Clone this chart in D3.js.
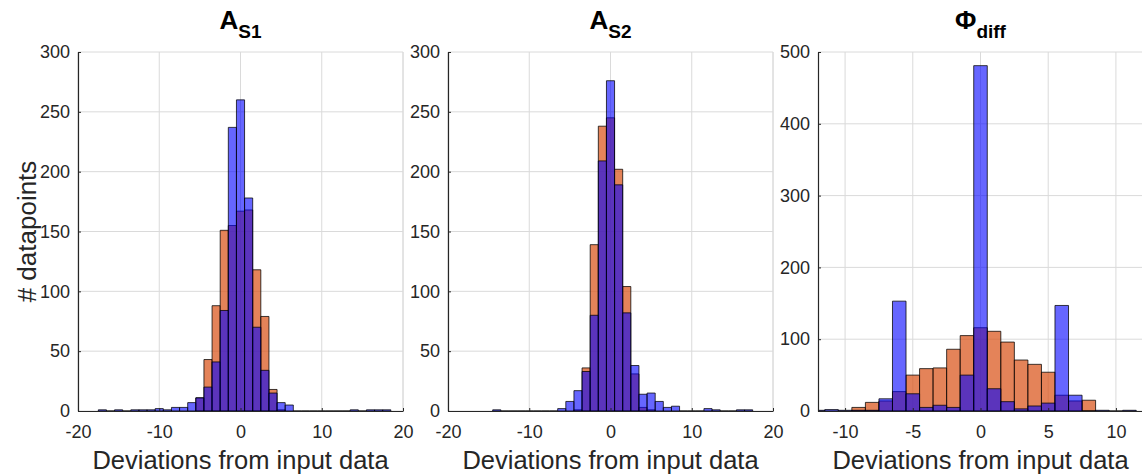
<!DOCTYPE html>
<html><head><meta charset="utf-8">
<script src="https://cdn.jsdelivr.net/npm/d3@7"></script>
<style>
body{margin:0;background:#fff}
text{font-family:"Liberation Sans",Arial,Helvetica,sans-serif}
</style>
</head><body>
<svg id="chart" width="1142" height="475"></svg>
<script>
// ---- data: counts per unit-wide bin, bins centred on integers ----
const as1BlueStart = -17;
const as1Blue = [1,0,1,0,1,1,1,2,1,3,3,7,11,20,41,84,237,260,178,70,34,15,7,5,0,0,0,0,0,0,0,1,0,1,1,1];
const as1OrangeStart = -5;
const as1Orange = [11,43,88,151,155,167,168,118,79,18,1];

const as2BlueStart = -14;
const as2Blue = [1,0,0,0,0,0,0,0,2,8,17,33,80,209,276,189,82,38,14,15,8,3,4,0,0,0,2,1,0,0,1,1];
const as2OrangeStart = -4;
const as2Orange = [1,36,139,238,245,202,104,31,3,1];

const phiBlueStart = -12;
const phiBlue = [1,2,1,1,1,17,153,24,5,8,5,50,481,31,13,3,7,11,147,22,0,1,0,1];
const phiOrangeStart = -9;
const phiOrange = [5,12,14,27,50,59,60,86,105,116,111,96,71,65,54,22,14,15];

const xTicksAS = [-20,-10,0,10,20];
const xTicksPhi = [-10,-5,0,5,10];
const yTicksAS = [0,50,100,150,200,250,300];
const yTicksPhi = [0,100,200,300,400,500];

const titles = [["A","S1"],["A","S2"],["\u03A6","diff"]];
const xLabel = "Deviations from input data";
const yLabel = "# datapoints";

// ---- layout ----
const svg = d3.select("#chart");
const plotTop = 52, plotBottom = 411, pw = 325;
const panels = [
  {left:78,  xd:[-20,20], ymax:300, xt:xTicksAS,  yt:yTicksAS,  t:titles[0], bs:as1BlueStart, b:as1Blue, os:as1OrangeStart, o:as1Orange},
  {left:448, xd:[-20,20], ymax:300, xt:xTicksAS,  yt:yTicksAS,  t:titles[1], bs:as2BlueStart, b:as2Blue, os:as2OrangeStart, o:as2Orange},
  {left:818, xd:[-12,12], ymax:500, xt:xTicksPhi, yt:yTicksPhi, t:titles[2], bs:phiBlueStart, b:phiBlue, os:phiOrangeStart, o:phiOrange}
];
const axisCol = "#262626";

panels.forEach((p, idx) => {
  const x = d3.scaleLinear().domain(p.xd).range([p.left, p.left + pw]);
  const y = d3.scaleLinear().domain([0, p.ymax]).range([plotBottom, plotTop]);
  const g = svg.append("g");
  const clipId = "clip" + idx;
  svg.append("clipPath").attr("id", clipId).append("rect")
    .attr("x", p.left).attr("y", plotTop - 2).attr("width", pw).attr("height", plotBottom - plotTop + 4);

  // grid
  g.append("g").selectAll("line").data(p.xt).join("line")
    .attr("x1", d => x(d)).attr("x2", d => x(d)).attr("y1", plotTop).attr("y2", plotBottom)
    .attr("stroke", "#dadada").attr("stroke-width", 1);
  g.append("g").selectAll("line").data(p.yt).join("line")
    .attr("x1", p.left).attr("x2", p.left + pw).attr("y1", d => y(d)).attr("y2", d => y(d))
    .attr("stroke", "#dadada").attr("stroke-width", 1);
  g.append("line").attr("x1", x(p.xd[1])).attr("x2", x(p.xd[1])).attr("y1", plotTop).attr("y2", plotBottom)
    .attr("stroke", "#dadada");

  const bars = (start, counts) => counts.map((c, i) => ({x0: start + i - 0.5, x1: start + i + 0.5, c}));
  const pathFor = d => `M${x(d.x0)},${y(0)}V${y(d.c)}H${x(d.x1)}V${y(0)}Z`;

  const bg = g.append("g").attr("clip-path", `url(#${clipId})`);
  bg.append("g").selectAll("path").data(bars(p.os, p.o)).join("path")
    .attr("d", pathFor)
    .attr("fill", "rgb(217,83,25)").attr("fill-opacity", 0.72)
    .attr("stroke", "#000").attr("stroke-opacity", 0.75).attr("stroke-width", 1);
  bg.append("g").selectAll("path").data(bars(p.bs, p.b)).join("path")
    .attr("d", pathFor)
    .attr("fill", "rgb(0,0,255)").attr("fill-opacity", 0.6)
    .attr("stroke", "#000").attr("stroke-opacity", 0.75).attr("stroke-width", 1);

  // axes
  const ax = g.append("g").attr("transform", `translate(0,${plotBottom})`)
    .call(d3.axisBottom(x).tickValues(p.xt).tickFormat(d3.format("d")).tickSizeInner(-3).tickSizeOuter(0).tickPadding(14));
  const ay = g.append("g").attr("transform", `translate(${p.left},0)`)
    .call(d3.axisLeft(y).tickValues(p.yt).tickFormat(d3.format("d")).tickSizeInner(-3).tickSizeOuter(0).tickPadding(8));
  [ax, ay].forEach(a => {
    a.select(".domain").attr("stroke", axisCol).attr("stroke-width", 1.2);
    a.selectAll(".tick line").attr("stroke", axisCol);
    a.selectAll(".tick text").attr("fill", axisCol).style("font-size", "18px")
      .style("font-family", '"Liberation Sans",Arial,sans-serif');
  });
  ax.selectAll(".tick text").text(d => String(d));

  // title
  const tt = svg.append("text").attr("x", p.left + pw / 2).attr("y", 29)
    .attr("text-anchor", "middle").attr("font-weight", "bold").attr("fill", "#000");
  tt.append("tspan").style("font-size", "26px").text(p.t[0]);
  tt.append("tspan").style("font-size", "19px").attr("dy", 9).text(p.t[1]);

  // x label
  svg.append("text").attr("x", p.left + pw / 2).attr("y", 469)
    .attr("text-anchor", "middle").style("font-size", "25.5px").attr("fill", axisCol).text(xLabel);
});

// y label
svg.append("text").attr("transform", `translate(36,${(plotTop + plotBottom) / 2}) rotate(-90)`)
  .attr("text-anchor", "middle").style("font-size", "26px").attr("fill", axisCol).text(yLabel);
</script>
</body></html>
